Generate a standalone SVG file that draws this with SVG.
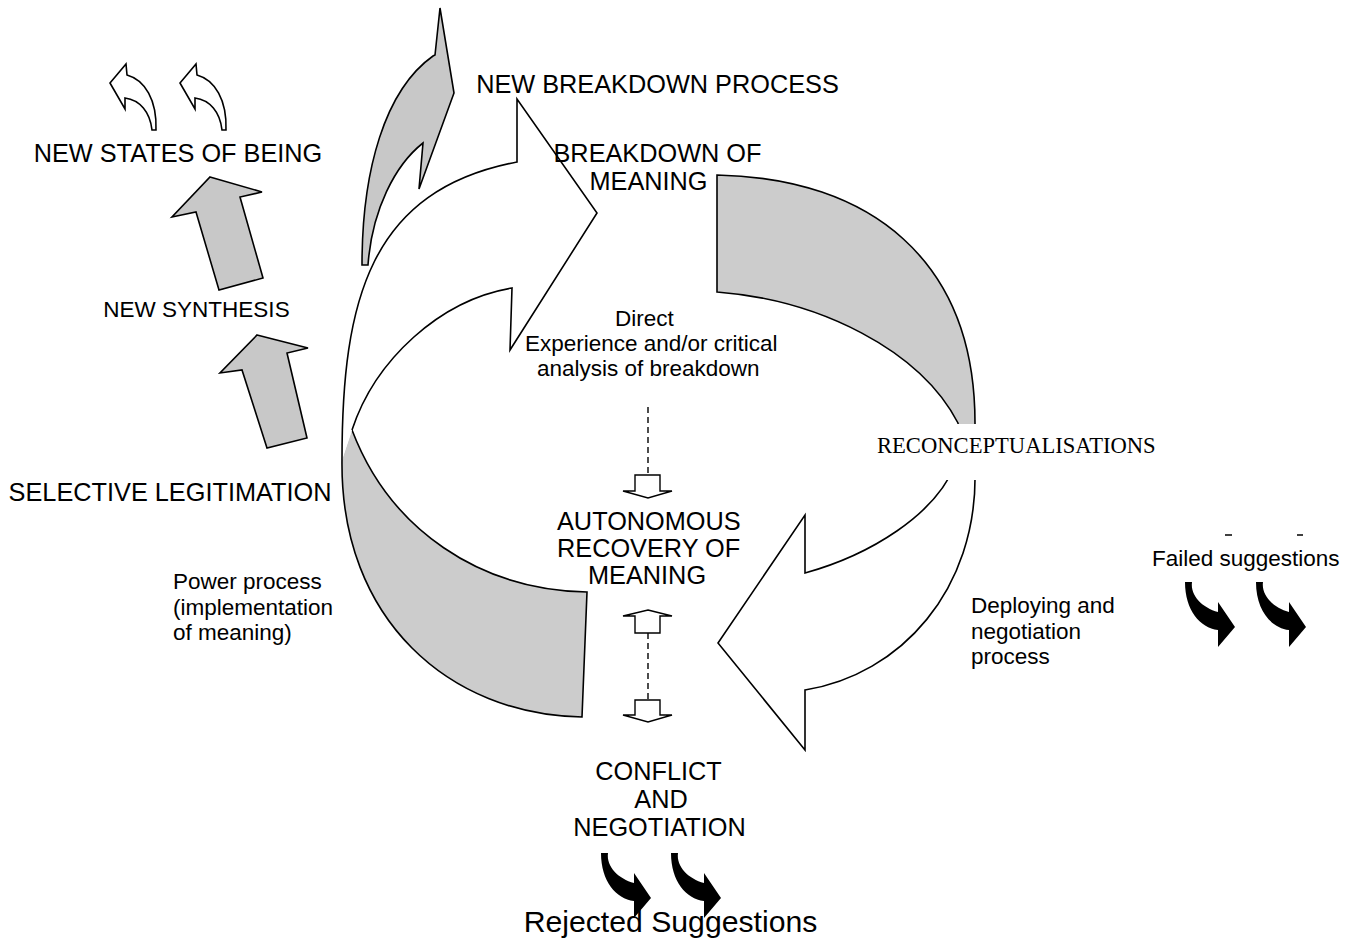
<svg xmlns="http://www.w3.org/2000/svg" width="1356" height="941" viewBox="0 0 1356 941">
<style>
.t{font-family:"Liberation Sans",Arial,sans-serif;fill:#000}
.big{font-size:25.3px}
.mid{font-size:22.5px}
.tr{font-family:"Liberation Serif","Times New Roman",serif;font-size:22.6px}
.ln{fill:none;stroke:#000;stroke-width:1.6}
.gf{fill:#cccccc;stroke:none}
.wa{fill:#fff;stroke:#000;stroke-width:1.6;stroke-linejoin:miter}
.ga{fill:#c8c8c8;stroke:#000;stroke-width:1.6}
.ba{fill:#000;stroke:none}
.dash{stroke:#000;stroke-width:1.4;stroke-dasharray:6,4;fill:none}
.ha{fill:#fff;stroke:#000;stroke-width:1.4}
</style>
<defs>
<path id="blk" d="M0,0 L7,0 C5,14 18,26 33,30 L33,20 L50,45 L33,65 L33,48 C15,46 0,28 0,0 Z"/>
<path id="curl" d="M0,0 L16,-19 L17,-8 C35,-3 47,17 46,47 L42,47 C40,29 30,17 15,15 L15,26 Z"/>
</defs>

<g id="connectors">
  <!-- lower-left gray arc (power process) -->
  <g id="arc-power">
    <path class="gf" d="M352,430 C390,530 480,590 587,592 L582,717 C450,715 340,620 342,460 Z"/>
    <path class="ln" d="M352,430 C390,530 480,590 587,592 L582,717 C450,715 340,620 342,460"/>
  </g>
  <!-- upper-right gray arc (reconceptualisations) -->
  <g id="arc-reconc">
    <path class="gf" d="M717,175 C870,178 975,260 975,423 L975,450 L960,450 L958,423 C920,350 820,300 717,292 Z"/>
    <path class="ln" d="M975,450 L975,423 C975,260 870,178 717,175 L717,292 C820,300 920,350 958,423 L960,450"/>
  </g>
  <!-- big white arrow: direct experience -->
  <path id="arrow-direct" class="wa" d="M352,430 C375,360 440,300 512,288 L510,350 L597,213 L517,99 L517,162 C370,190 342,300 342,460"/>
  <!-- big white arrow: deploying and negotiation -->
  <path id="arrow-deploy" class="wa" d="M955,465 C935,515 870,555 805,573 L805,515 L718,643 L805,750 L805,690 C900,675 978,590 975,470"/>
  <!-- tall gray arrow: new breakdown process -->
  <path id="arrow-newbreak" class="ga" d="M362,265 C362,170 385,90 433,56 L435,55 L440,8 L454,93 L419,189 L423,143 C395,165 372,210 368,265 Z"/>
  <!-- gray up arrows -->
  <polygon class="ga" points="210,177 262,192 240,197 263,278 219,290 196,212 172,217"/>
  <polygon class="ga" points="257,335 308,348 287,353 307,438 267,448 242,370 220,373"/>
  <!-- small white curled arrows -->
  <use href="#curl" transform="translate(110,83)" class="wa"/>
  <use href="#curl" transform="translate(180,83)" class="wa"/>
  <!-- dashed connectors and hollow arrows -->
  <line class="dash" x1="648" y1="407" x2="648" y2="475"/>
  <polygon class="ha" points="635,475 660,475 660,491 672,491 648,498 623,491 635,491"/>
  <polygon class="ha" points="648,610 672,616 660,616 660,633 635,633 635,616 623,616"/>
  <line class="dash" x1="648" y1="633" x2="648" y2="700"/>
  <polygon class="ha" points="635,700 660,700 660,715 672,715 648,722 623,715 635,715"/>
  <!-- black curved arrows -->
  <use href="#blk" class="ba" transform="translate(601,853)"/>
  <use href="#blk" class="ba" transform="translate(671,853)"/>
  <use href="#blk" class="ba" transform="translate(1185,582)"/>
  <use href="#blk" class="ba" transform="translate(1256,582)"/>
  <line x1="1225" y1="535" x2="1232" y2="535" stroke="#000" stroke-width="1.5"/>
  <line x1="1297" y1="535" x2="1303" y2="535" stroke="#000" stroke-width="1.5"/>
</g>

<g id="node-new-states"><text class="t big" x="178" y="162" text-anchor="middle">NEW STATES OF BEING</text></g>
<g id="node-new-synthesis"><text class="t mid" x="196.5" y="317" text-anchor="middle">NEW SYNTHESIS</text></g>
<g id="node-selective"><text class="t big" x="170" y="501" text-anchor="middle">SELECTIVE LEGITIMATION</text></g>
<g id="node-new-breakdown"><text class="t big" x="657.5" y="93" text-anchor="middle">NEW BREAKDOWN PROCESS</text></g>
<g id="node-breakdown">
  <text class="t big" x="657.5" y="162" text-anchor="middle">BREAKDOWN OF</text>
  <text class="t big" x="648.5" y="190" text-anchor="middle">MEANING</text>
</g>
<g id="node-direct">
  <text class="t mid" x="615" y="326">Direct</text>
  <text class="t mid" x="525" y="351">Experience and/or critical</text>
  <text class="t mid" x="537" y="376">analysis of breakdown</text>
</g>
<g id="node-reconc">
  <rect x="868" y="424" width="295" height="56" fill="#fff"/>
  <text class="tr" x="877" y="453">RECONCEPTUALISATIONS</text>
</g>
<g id="node-autonomous">
  <text class="t big" x="557" y="530">AUTONOMOUS</text>
  <text class="t big" x="557" y="557">RECOVERY OF</text>
  <text class="t big" x="588" y="584">MEANING</text>
</g>
<g id="node-power">
  <text class="t mid" x="173" y="589">Power process</text>
  <text class="t mid" x="173" y="615">(implementation</text>
  <text class="t mid" x="173" y="640">of meaning)</text>
</g>
<g id="node-deploying">
  <text class="t mid" x="971" y="613">Deploying and</text>
  <text class="t mid" x="971" y="639">negotiation</text>
  <text class="t mid" x="971" y="664">process</text>
</g>
<g id="node-failed"><text class="t mid" x="1152" y="566">Failed suggestions</text></g>
<g id="node-conflict">
  <text class="t big" x="658.5" y="780" text-anchor="middle">CONFLICT</text>
  <text class="t big" x="661" y="808" text-anchor="middle">AND</text>
  <text class="t big" x="659.5" y="836" text-anchor="middle">NEGOTIATION</text>
</g>
<g id="node-rejected"><text class="t" style="font-size:30.2px" x="670.5" y="932" text-anchor="middle">Rejected Suggestions</text></g>
</svg>
